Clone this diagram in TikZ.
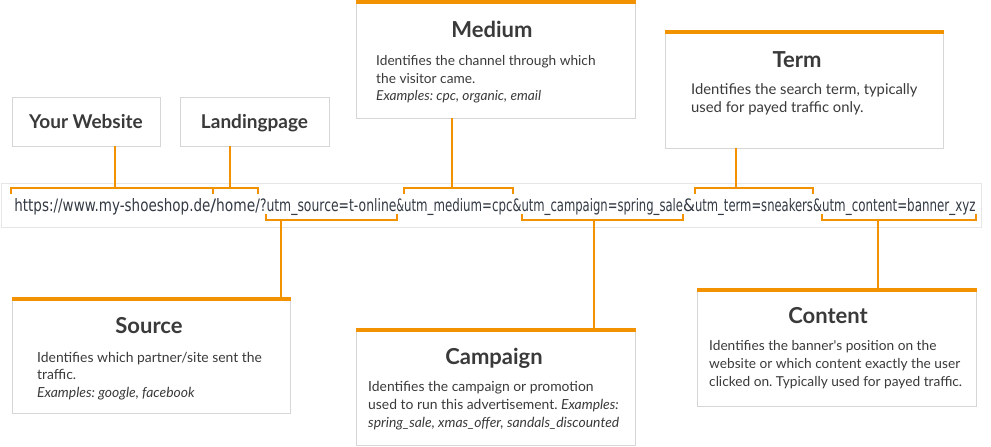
\documentclass[tikz,border=0pt]{standalone}
\usepackage{fontspec}
\setmainfont{Lato}
\newfontfamily\urlfont{DejaVu Sans}
\usepackage{graphicx}
\definecolor{utmorange}{HTML}{F29200}
\definecolor{boxgray}{HTML}{D6D6D6}
\definecolor{bargray}{HTML}{E6E6E6}
\definecolor{txt}{HTML}{3A3A3A}
\definecolor{urltxt}{HTML}{333A44}
\newlength\urlh
\newcommand\usegw[2]{\resizebox{#1pt}{\urlsy\height}{\urlfont #2}}
\frenchspacing
\begin{document}
\settoheight\urlh{\urlfont h}%
\pgfmathsetmacro\urlsy{13/\urlh}%
\begin{tikzpicture}[x=1pt,y=-1pt,
  infobox/.style={draw=boxgray, line width=1pt, fill=white, anchor=north west, inner sep=0pt, outer sep=0pt},
  smallbox/.style={infobox, font=\fontsize{19}{22}\selectfont\bfseries, text=txt, text height=14pt, text depth=0pt},
  topbar/.style={fill=utmorange, draw=none},
  title/.style={font=\fontsize{22}{26}\selectfont\bfseries, text=txt, anchor=base, inner sep=0pt},
  body/.style={font=\fontsize{#1}{17.5}\selectfont\frenchspacing, text=txt, anchor=base west, inner sep=0pt},
  body/.default=13.8,
  seg/.style={anchor=base west, inner sep=0pt, outer sep=0pt, text=urltxt},
  link/.style={draw=utmorange, line width=2pt},
]
\useasboundingbox (0,0) rectangle (991,447);

% URL bar
\node[draw=bargray, line width=1pt, fill=white, minimum width=980pt, minimum height=44pt, anchor=north west, inner sep=0pt] (urlbar) at (1,183) {};
\node[seg] (u1) at (14.3,211) {\usegw{196.1}{https://www.my-shoeshop.de}};
\node[seg] (u2) at (u1.base east) {\usegw{5.8}{/}};
\node[seg] (u3) at (u2.base east) {\usegw{43.8}{home/}};
\node[seg] (u4) at (u3.base east) {\usegw{6.5}{?}};
\node[seg] (u5) at (u4.base east) {\usegw{130}{utm\_source=t-online}};
\node[seg] (u6) at (u5.base east) {\usegw{7.5}{\&}};
\node[seg] (u7) at (u6.base east) {\usegw{108.5}{utm\_medium=cpc}};
\node[seg] (u8) at (u7.base east) {\usegw{9}{\&}};
\node[seg] (u9) at (u8.base east) {\usegw{161.5}{utm\_campaign=spring\_sale}};
\node[seg] (u10) at (u9.base east) {\usegw{12}{\&}};
\node[seg] (u11) at (u10.base east) {\usegw{118}{utm\_term=sneakers}};
\node[seg] (u12) at (u11.base east) {\usegw{9}{\&}};
\node[seg] (u13) at (u12.base east) {\usegw{153.5}{utm\_content=banner\_xyz}};

% bracket levels
\coordinate (topY) at (0,188);
\coordinate (topT) at (0,194);
\coordinate (botY) at (0,220);
\coordinate (botT) at (0,214);

% bracket ends
\coordinate (ywA) at ([xshift=-3pt]u1.west);
\coordinate (ywB) at (u2.center);
\coordinate (lpB) at ([xshift=-2pt]u3.east);
\coordinate (srA) at ([xshift=-1pt]u5.west);
\coordinate (srB) at (u5.east);
\coordinate (mdA) at (u7.west);
\coordinate (mdB) at (u7.east);
\coordinate (cpA) at (u9.west);
\coordinate (cpB) at (u9.east);
\coordinate (tmA) at (u11.west);
\coordinate (tmB) at (u11.east);
\coordinate (ctA) at (u13.west);
\coordinate (ctB) at (u13.east);

% top brackets
\draw[link] (ywA |- topT) -- (ywA |- topY) -- (ywB |- topY) -- (ywB |- topT);
\draw[link] (ywB |- topY) -- (lpB |- topY) -- (lpB |- topT);
\draw[link] (mdA |- topT) -- (mdA |- topY) -- (mdB |- topY) -- (mdB |- topT);
\draw[link] (tmA |- topT) -- (tmA |- topY) -- (tmB |- topY) -- (tmB |- topT);
% bottom brackets
\draw[link] (srA |- botT) -- (srA |- botY) -- (srB |- botY) -- (srB |- botT);
\draw[link] (cpA |- botT) -- (cpA |- botY) -- (cpB |- botY) -- (cpB |- botT);
\draw[link] (ctA |- botT) -- (ctA |- botY) -- (ctB |- botY) -- (ctB |- botT);

% connector positions
\coordinate (ywC) at (115,188);
\coordinate (lpC) at (230,188);
\coordinate (mdC) at (452,188);
\coordinate (tmC) at (736,188);
\coordinate (srC) at (281,220);
\coordinate (cpC) at (594,220);
\coordinate (ctC) at (878,220);

% small boxes
\node[smallbox, minimum width=148pt, minimum height=49pt] (yw) at (12,97) {Your Website};
\node[smallbox, minimum width=149pt, minimum height=49pt] (lp) at (180,97) {Landingpage};

% Medium
\node[infobox, minimum width=279pt, minimum height=118pt] (md) at (356,0) {};
\fill[topbar] ([xshift=-0.5pt]md.north west) rectangle ([xshift=0.5pt,yshift=-4pt]md.north east);
\node[title] (mdT) at (492,37) {Medium};
\node[body=13.7] (mdL1) at (376,65.7) {Identifies the channel through which};
\node[body=13.7] (mdL2) at (376,83.2) {the visitor came.};
\node[body=13.7] (mdL3) at (376,100.7) {\itshape Examples: cpc, organic, email};

% Term
\node[infobox, minimum width=278pt, minimum height=118pt] (tm) at (665,30) {};
\fill[topbar] ([xshift=-0.5pt]tm.north west) rectangle ([xshift=0.5pt,yshift=-4pt]tm.north east);
\node[title] (tmT) at (797,67.5) {Term};
\node[body=14.8] (tmL1) at (691,94.3) {Identifies the search term, typically};
\node[body=14.8] (tmL2) at (691,112.3) {used for payed traffic only.};

% Source
\node[infobox, minimum width=278pt, minimum height=116pt] (sr) at (12,297) {};
\fill[topbar] ([xshift=-0.5pt]sr.north west) rectangle ([xshift=0.5pt,yshift=-4pt]sr.north east);
\node[title] (srT) at (149,333) {Source};
\node[body=13.9] (srL1) at (37,362.3) {Identifies which partner/site sent the};
\node[body=13.9] (srL2) at (37,379.8) {traffic.};
\node[body=13.9] (srL3) at (37,397.3) {\itshape Examples: google, facebook};

% Campaign
\node[infobox, minimum width=279pt, minimum height=117pt] (cp) at (356,328) {};
\fill[topbar] ([xshift=-0.5pt]cp.north west) rectangle ([xshift=0.5pt,yshift=-4pt]cp.north east);
\node[title] (cpT) at (494,364) {Campaign};
\node[body=13.9] (cpL1) at (368,391.7) {Identifies the campaign or promotion};
\node[body=13.9] (cpL2) at (368,409.5) {used to run this advertisement. \textit{Examples:}};
\node[body=13.9] (cpL3) at (368,427.3) {\itshape spring\_sale, xmas\_offer, sandals\_discounted};

% Content
\node[infobox, minimum width=279pt, minimum height=118pt] (ct) at (697,288) {};
\fill[topbar] ([xshift=-0.5pt]ct.north west) rectangle ([xshift=0.5pt,yshift=-4pt]ct.north east);
\node[title] (ctT) at (828,323.5) {Content};
\node[body=13.7] (ctL1) at (709,350.3) {Identifies the banner\textquotesingle s position on the};
\node[body=13.7] (ctL2) at (709,368.3) {website or which content exactly the user};
\node[body=13.7] (ctL3) at (709,386.3) {clicked on. Typically used for payed traffic.};

% connectors
\draw[link] (yw.south -| ywC) -- (ywC);
\draw[link] (lp.south -| lpC) -- (lpC);
\draw[link] (md.south -| mdC) -- (mdC);
\draw[link] (tm.south -| tmC) -- (tmC);
\draw[link] (srC) -- (sr.north -| srC);
\draw[link] (cpC) -- (cp.north -| cpC);
\draw[link] (ctC) -- (ct.north -| ctC);
\end{tikzpicture}
\end{document}
